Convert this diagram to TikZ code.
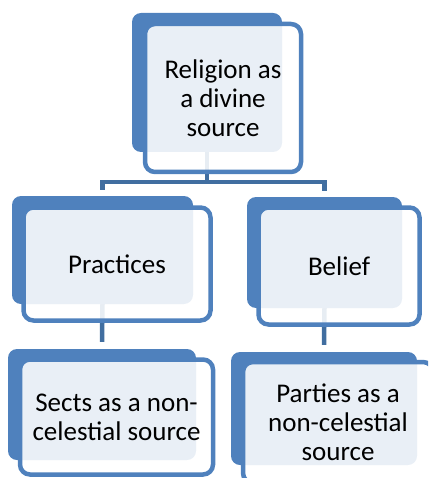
\documentclass[tikz,border=0pt]{standalone}
\usepackage{fontspec}
\setmainfont{Carlito}
\usetikzlibrary{backgrounds}
\definecolor{boxblue}{RGB}{79,129,189}
\definecolor{connblue}{RGB}{65,110,160}
\tikzset{
  backbox/.style={rectangle, rounded corners=9pt, fill=boxblue, inner sep=0pt},
  frontbox/.style={rectangle, rounded corners=10pt, draw=boxblue, line width=4.5pt,
    fill=white, fill opacity=0.88, text opacity=1, inner sep=0pt, align=center,
    font=\fontsize{27}{29}\selectfont, text=black},
  conn/.style={draw=connblue, line width=4.5pt}
}
\begin{document}
\begin{tikzpicture}[x=1pt,y=-1pt]
\clip (0,0) rectangle (428,478);
% top
\node[backbox, minimum width=150pt, minimum height=139pt] (topback) at (207,82.5) {};
\node[frontbox, minimum width=156pt, minimum height=148pt] (top) at (223,98) {Religion as\\a divine\\source};
% middle left
\node[backbox, minimum width=181pt, minimum height=108pt] (lmback) at (102.5,250) {};
\node[frontbox, minimum width=187pt, minimum height=113pt] (lm) at (117,264) {Practices};
% middle right
\node[backbox, minimum width=155pt, minimum height=111pt] (rmback) at (324.5,252.5) {};
\node[frontbox, minimum width=161pt, minimum height=117pt] (rm) at (339,266) {Belief};
% bottom left
\node[backbox, minimum width=188pt, minimum height=111pt] (lbback) at (102,404.5) {};
\node[frontbox, minimum width=193pt, minimum height=115pt] (lb) at (116.5,417) {Sects as a non-\\celestial source};
% bottom right
\node[backbox, minimum width=186pt, minimum height=113pt] (rbback) at (324,408.5) {};
\node[frontbox, minimum width=190pt, minimum height=121pt] (rb) at (338,422.5) {Parties as a\\non-celestial\\source};
% connectors
\begin{scope}[on background layer]
  \path (topback.south) ++(0,30) coordinate (hub);
  \draw[conn] (topback.south) -- (hub);
  \draw[conn] (hub) -| ([yshift=6pt]lmback.north);
  \draw[conn] (hub) -| ([yshift=6pt]rmback.north);
  \draw[conn] (lmback.south) -- ([yshift=7pt]lbback.north);
  \draw[conn] (rmback.south) -- ([yshift=7pt]rbback.north);
\end{scope}
\end{tikzpicture}
\end{document}
